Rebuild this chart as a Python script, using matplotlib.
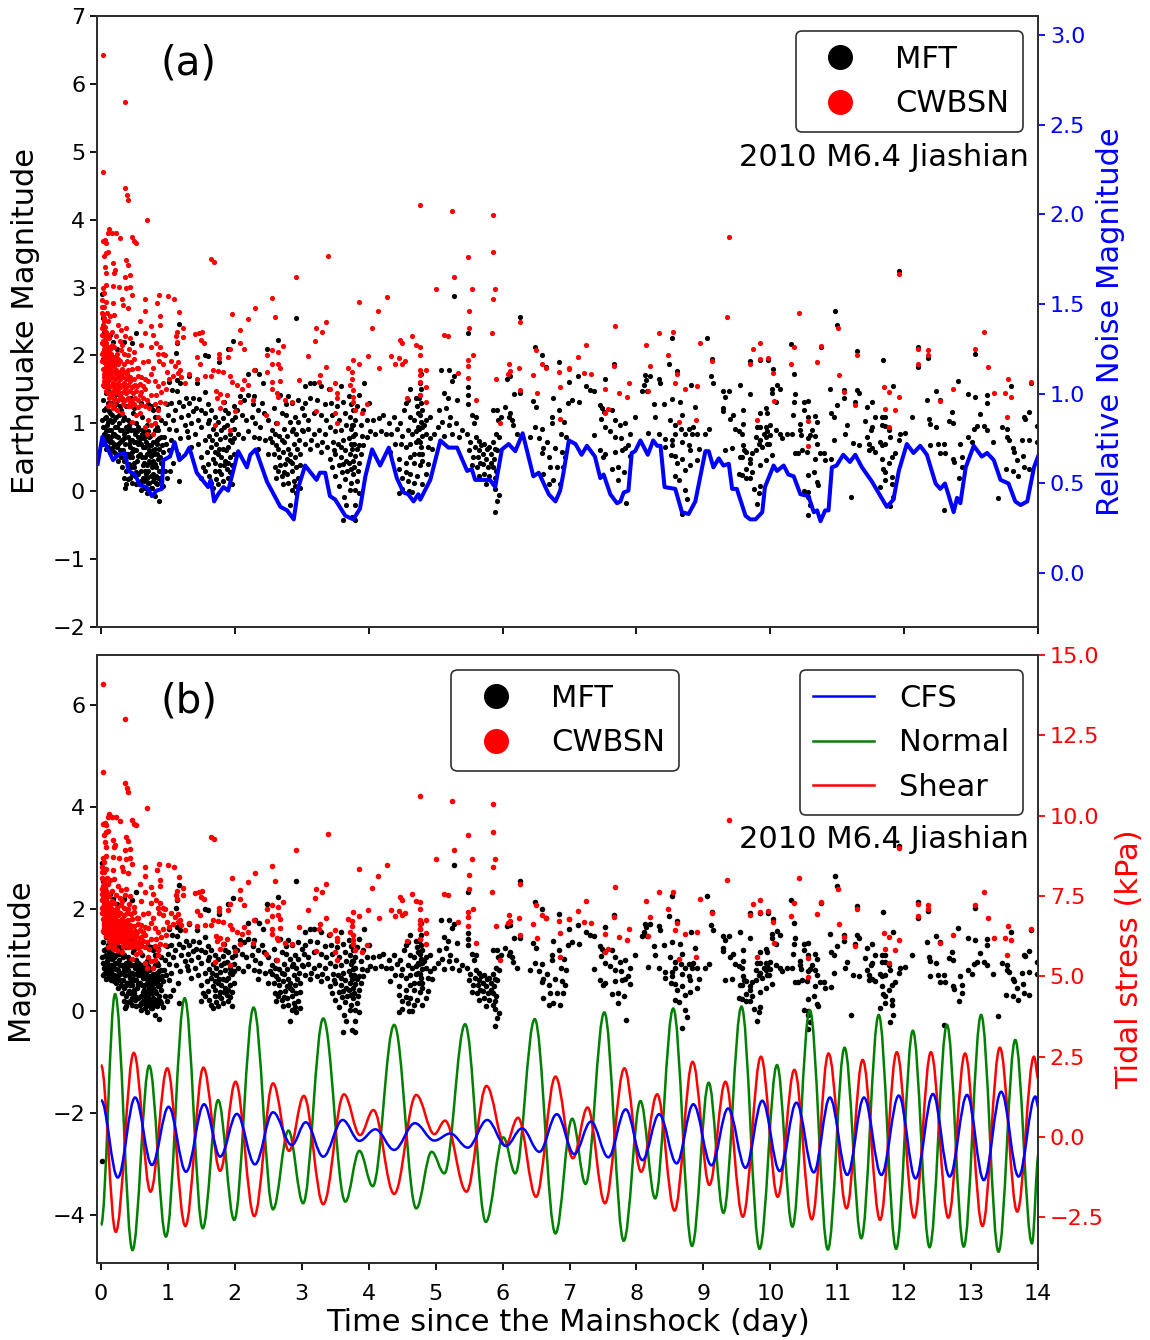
import numpy as np
import matplotlib
matplotlib.use("Agg")
import matplotlib.pyplot as plt
from matplotlib.lines import Line2D
from matplotlib.path import Path
from matplotlib.patches import PathPatch

# ---- Catalogue events: flat lists of time (day), magnitude ----
mft_day0_a = [0.03,1.35, 0.05,1.2, 0.02,1.05, 0.06,0.95, 0.04,0.85, 0.07,1.1, 0.09,0.75, 0.03,0.7, 0.1,1.3, 0.12,0.9,
 0.11,0.65, 0.14,1.15, 0.13,0.78, 0.16,1.02, 0.15,0.6, 0.18,0.85, 0.19,1.25, 0.2,0.7, 0.21,0.95, 0.23,1.1, 0.22,0.55,
 0.25,0.8, 0.24,0.65, 0.27,1.0, 0.26,0.45, 0.29,0.9, 0.28,0.6, 0.31,0.75, 0.3,1.2, 0.32,0.35, 0.07,0.62, 0.08,0.88,
 0.1,1.02, 0.05,0.72, 0.12,1.18, 0.17,0.72, 0.19,0.58, 0.16,0.82, 0.04,1.55, 0.06,1.75, 0.03,1.95, 0.05,2.35, 0.02,2.9,
 0.03,2.55, 0.08,1.45, 0.11,1.5, 0.15,1.3, 0.21,1.42, 0.13,2.3, 0.18,2.2, 0.24,2.1, 0.34,2.2, 0.52,2.33, 0.47,2.18,
 0.02,-2.95, 0.23,1.28, 0.28,1.25, 0.33,1.35, 0.35,1.1, 0.38,1.25, 0.03,0.95, 0.06,0.82, 0.09,0.98, 0.14,0.72, 0.2,0.85]
mft_day0_b = [0.33,0.6, 0.34,0.85, 0.35,0.45, 0.36,0.7, 0.37,0.95, 0.38,0.3, 0.39,0.55, 0.4,0.8, 0.41,1.05, 0.42,0.4,
 0.43,0.65, 0.44,0.2, 0.45,0.9, 0.46,0.5, 0.47,0.75, 0.48,1.15, 0.49,0.35, 0.5,0.6, 0.51,0.85, 0.52,0.1, 0.53,1.0,
 0.54,0.45, 0.55,0.7, 0.56,0.25, 0.57,0.92, 0.58,0.55, 0.59,0.78, 0.6,0.02, 0.61,1.1, 0.62,0.38, 0.63,0.65, 0.64,0.15,
 0.65,0.85, 0.66,0.5, 0.67,0.72, 0.68,-0.02, 0.69,0.98, 0.7,0.3, 0.71,0.6, 0.72,0.12, 0.73,0.82, 0.74,0.42, 0.75,0.68,
 0.76,0.05, 0.77,1.2, 0.78,0.25, 0.79,0.55, 0.8,-0.07, 0.81,0.9, 0.82,0.35, 0.83,0.75, 0.84,0.1, 0.85,0.48, 0.86,0.62,
 0.87,-0.15, 0.88,0.2, 0.89,0.8, 0.9,0.42, 0.92,0.58, 0.93,0.08, 0.95,0.3, 0.97,0.7, 0.99,0.2, 0.35,0.2, 0.38,0.1,
 0.41,0.55, 0.44,0.75, 0.47,0.25, 0.5,0.42, 0.53,0.6, 0.56,0.8, 0.59,0.3, 0.62,0.9, 0.65,0.3, 0.68,0.55, 0.71,0.8,
 0.74,0.22, 0.77,0.6, 0.8,0.4, 0.83,0.55, 0.86,0.3, 0.36,0.05, 0.42,0.98, 0.48,0.62, 0.54,0.88, 0.6,0.7, 0.66,0.05,
 0.72,0.45, 0.78,0.72, 0.84,0.7, 0.9,0.15, 0.46,0.12, 0.52,0.28, 0.58,0.12, 0.64,0.42, 0.7,0.12, 0.76,0.35, 0.82,0.12,
 0.88,0.5, 0.94,0.8, 0.96,1.0, 0.98,1.28, 0.9,1.05, 0.85,1.22, 0.8,1.1, 0.75,1.25, 0.7,1.28, 0.6,1.3, 0.5,1.22, 0.45,1.38,
 0.4,0.18, 0.43,0.5, 0.49,0.9, 0.55,0.95, 0.61,0.5, 0.67,0.25, 0.73,0.58, 0.79,0.2, 0.85,0.9, 0.91,0.68]
mft_day0_c = [0.06,1.08, 0.08,1.22, 0.11,0.82, 0.13,1.05, 0.15,0.9, 0.17,1.12, 0.18,0.65, 0.2,1.05, 0.22,0.82, 0.24,0.95, 0.26,0.7,
 0.27,1.12, 0.29,0.72, 0.3,0.5, 0.32,0.9, 0.33,1.05, 0.35,0.78, 0.37,0.5, 0.39,0.88, 0.4,0.35, 0.42,0.7, 0.44,0.92, 0.45,0.35, 0.47,0.58,
 0.49,0.72, 0.51,0.22, 0.52,0.72, 0.54,0.25, 0.56,0.52, 0.57,0.72, 0.59,0.15, 0.61,0.85, 0.63,0.2, 0.64,0.78, 0.66,0.65, 0.68,0.38, 0.69,0.2,
 0.7,0.88, 0.72,0.68, 0.74,0.05, 0.75,0.52, 0.77,0.15, 0.78,0.45, 0.8,0.62, 0.82,0.22, 0.83,0.95, 0.85,0.2, 0.86,0.78]
mft_day1 = [1.02,1.61, 1.13,1.64, 1.18,1.59, 1.06,1.49, 1.13,1.47, 1.16,2.47, 1.14,2.18, 1.12,2.03, 1.55,2.0, 1.6,1.99,
 1.76,1.91, 1.56,1.46, 1.43,1.59, 1.31,1.7, 1.97,2.21, 1.9,2.1, 1.05,1.3, 1.1,1.2, 1.0,1.12, 1.08,1.05, 1.17,1.32, 1.22,1.25,
 1.27,1.38, 1.32,1.3, 1.38,1.38, 1.2,1.1, 1.3,1.12, 1.42,1.22, 1.02,0.92, 1.12,0.9, 1.25,0.98, 1.35,1.0, 1.45,1.05, 1.5,1.2,
 1.55,1.15, 1.6,1.28, 1.65,1.2, 1.7,1.1, 1.05,0.75, 1.18,0.78, 1.3,0.8, 1.4,0.85, 1.5,0.95, 1.6,1.0, 1.02,0.6, 1.15,0.55,
 1.35,0.65, 1.45,0.7, 1.55,0.75, 1.62,0.82, 1.68,0.92, 1.75,1.02, 1.82,1.08, 1.9,1.15, 1.98,1.25, 1.85,1.2, 1.72,0.85, 1.8,0.9,
 1.88,0.97, 1.95,1.05, 2.0,1.1, 1.5,0.5, 1.58,0.58, 1.65,0.65, 1.72,0.7, 1.78,0.77, 1.85,0.8, 1.92,0.85, 1.98,0.92, 1.52,0.35,
 1.6,0.4, 1.68,0.48, 1.75,0.55, 1.82,0.62, 1.9,0.65, 1.96,0.72, 1.62,0.22, 1.7,0.3, 1.78,0.38, 1.85,0.45, 1.92,0.5, 1.98,0.55,
 1.65,0.12, 1.72,0.18, 1.8,0.25, 1.88,0.32, 1.95,0.38, 1.5,0.2, 1.55,0.3, 1.68,0.05, 1.75,0.1, 1.82,0.15, 1.9,0.2, 1.95,0.1,
 1.17,0.15, 1.03,0.3, 1.08,0.42, 1.28,0.88, 1.37,1.18, 1.47,1.36, 1.62,1.05, 1.76,0.62, 1.84,1.32, 1.93,0.75, 1.9,0.42,
 1.71,0.42, 1.79,0.5, 1.86,0.6, 1.76,0.3, 1.84,0.38, 1.93,0.28, 1.98,0.78, 1.66,0.75, 1.84,0.95, 1.7,0.58]
mft_day2 = [2.48,2.1, 2.64,2.23, 2.91,2.55, 2.2,1.72, 2.3,1.78, 2.36,1.72, 2.42,1.6, 2.07,1.4, 2.13,1.35, 2.2,1.42, 2.27,1.28,
 2.35,1.2, 2.43,1.15, 2.5,1.05, 2.03,1.2, 2.1,1.12, 2.17,1.05, 2.25,1.1, 2.3,1.0, 2.38,0.95, 2.55,0.9, 2.62,1.0, 2.7,1.15, 2.76,1.28,
 2.85,1.3, 2.95,1.35, 3.0,1.22, 2.9,1.1, 2.82,1.02, 2.74,0.92, 2.66,0.82, 2.05,0.85, 2.12,0.78, 2.2,0.88, 2.28,0.8, 2.36,0.78,
 2.45,0.75, 2.55,0.72, 2.62,0.68, 2.7,0.75, 2.78,0.82, 2.86,0.88, 2.94,1.02, 3.0,0.9, 2.5,0.55, 2.58,0.55, 2.66,0.5, 2.72,0.58,
 2.8,0.62, 2.88,0.7, 2.96,0.75, 2.6,0.35, 2.68,0.38, 2.75,0.4, 2.82,0.45, 2.9,0.5, 2.97,0.55, 2.62,0.2, 2.7,0.22, 2.78,0.25,
 2.85,0.3, 2.92,0.35, 2.72,0.1, 2.8,0.12, 2.88,0.15, 2.95,0.2, 2.85,0.02, 2.92,-0.03, 2.9,0.08, 2.97,0.05, 2.82,-0.2,
 2.53,0.78, 2.6,0.85, 2.35,0.62, 2.28,1.4, 2.4,1.3, 2.58,1.22, 2.68,1.42, 2.8,1.4, 2.76,1.12, 2.87,0.92,
 2.65,0.62, 2.74,0.28, 2.83,0.55, 2.78,0.48, 2.93,0.62, 2.86,0.42, 2.73,0.72, 2.98,0.38, 2.64,0.3, 2.92,0.85]
mft_day3 = [3.05,1.55, 3.12,1.6, 3.18,1.6, 3.28,1.55, 3.4,1.5, 3.58,1.55, 3.7,1.4, 3.93,1.6, 3.85,1.42, 4.0,1.3, 3.05,1.3, 3.12,1.38,
 3.22,1.35, 3.34,1.28, 3.44,1.3, 3.52,1.25, 3.62,1.32, 3.74,1.28, 3.82,1.25, 3.92,1.2, 3.03,1.12, 3.1,1.05, 3.18,1.15, 3.28,1.12,
 3.36,1.05, 3.45,1.12, 3.55,1.05, 3.65,1.15, 3.72,1.1, 3.8,1.05, 3.88,0.98, 3.97,1.05, 3.02,0.88, 3.1,0.92, 3.18,0.85, 3.26,0.9,
 3.34,0.85, 3.42,0.95, 3.5,0.88, 3.58,0.9, 3.66,0.98, 3.74,0.92, 3.8,0.85, 3.9,0.82, 3.98,0.8, 3.05,0.7, 3.14,0.75, 3.22,0.68,
 3.3,0.72, 3.38,0.65, 3.46,0.72, 3.54,0.7, 3.62,0.75, 3.7,0.78, 3.78,0.7, 3.85,0.68, 3.12,0.62, 3.28,0.58, 3.42,0.48, 3.5,0.55,
 3.58,0.5, 3.65,0.6, 3.72,0.55, 3.8,0.52, 3.88,0.55, 3.45,0.35, 3.55,0.38, 3.62,0.4, 3.7,0.42, 3.78,0.35, 3.86,0.42, 3.5,0.22,
 3.6,0.28, 3.68,0.3, 3.76,0.25, 3.84,0.3, 3.55,0.08, 3.65,0.18, 3.74,0.12, 3.82,0.15, 3.63,-0.08, 3.72,0.02, 3.8,0.02, 3.86,-0.03,
 3.66,-0.2, 3.62,-0.42, 3.75,-0.38, 3.8,-0.2, 3.8,-0.42, 3.76,1.2, 3.75,0.98, 3.76,0.82,
 3.75,0.62, 3.77,0.45, 3.74,0.7, 3.77,0.98, 3.73,0.32, 3.66,0.45, 3.83,0.62, 3.58,0.65, 3.48,0.6, 3.92,0.68]
mft_day4 = [4.07,1.05, 4.15,1.08, 4.22,1.12, 4.3,1.0, 4.38,1.1, 4.47,1.0, 4.53,1.2, 4.58,1.35, 4.62,1.1, 4.68,1.05, 4.72,1.25, 4.8,1.2,
 4.86,1.05, 4.92,1.1, 4.78,1.72, 4.76,1.6, 4.78,1.5, 4.75,1.38, 4.78,1.3, 4.74,1.15, 4.78,1.02, 4.75,0.92, 4.8,0.82, 4.74,0.75,
 4.78,0.65, 4.75,0.55, 4.8,0.45, 4.76,0.38, 4.8,0.11, 4.7,1.38, 4.62,1.5, 4.55,1.3, 4.02,0.88, 4.1,0.85, 4.18,0.88, 4.26,0.85,
 4.34,0.85, 4.42,0.92, 4.5,0.82, 4.58,0.9, 4.65,0.85, 4.7,0.72, 4.85,0.85, 4.92,0.78, 4.98,0.85, 4.4,0.7, 4.48,0.7, 4.55,0.65,
 4.62,0.7, 4.68,0.55, 4.88,0.65, 4.95,0.62, 4.32,0.58, 4.45,0.48, 4.55,0.42, 4.62,0.5, 4.68,0.42, 4.88,0.4, 4.45,0.32, 4.55,0.28,
 4.62,0.25, 4.72,0.22, 4.85,0.25, 4.5,0.2, 4.58,0.15, 4.68,0.12, 4.45,-0.02, 4.65,-0.01, 4.5,0.03, 4.6,0.0,
 4.77,1.12, 4.79,0.95, 4.76,0.72, 4.79,0.55, 4.77,1.42, 4.73,0.95, 4.82,0.98, 4.7,0.88]
mft_day5 = [5.08,1.79, 5.2,1.79, 5.25,1.63, 5.28,1.7, 5.12,1.45, 5.18,1.37, 5.32,1.34, 5.15,1.23, 5.22,1.1, 5.05,1.2, 5.27,2.87, 5.49,2.33,
 5.49,1.54, 5.49,1.42, 5.49,1.29, 5.6,1.1, 5.55,1.12, 5.58,1.0, 5.47,0.85, 5.6,0.8, 5.65,0.74, 5.52,0.72, 5.59,0.65, 5.4,0.9,
 5.35,0.8, 5.3,1.0, 5.65,0.6, 5.72,0.7, 5.8,0.65, 5.85,0.72, 5.9,0.85, 5.93,1.05, 5.85,1.2, 5.92,1.2, 5.98,1.1, 5.95,0.8,
 5.5,0.6, 5.56,0.5, 5.63,0.5, 5.7,0.55, 5.75,0.48, 5.82,0.55, 5.87,0.48, 5.92,0.6, 5.55,0.38, 5.62,0.35, 5.7,0.4, 5.78,0.35,
 5.85,0.35, 5.9,0.3, 5.65,0.22, 5.72,0.25, 5.8,0.22, 5.88,0.2, 5.75,0.1, 5.85,0.12, 5.88,0.03, 5.95,-0.05, 5.92,-0.14, 5.88,-0.3,
 5.1,1.02, 5.2,0.98, 5.25,0.85, 5.12,0.82, 5.03,0.95, 5.67,0.42, 5.76,0.62, 5.82,0.42, 5.88,0.62, 5.68,0.68]
mft_day6 = [6.26,2.56, 6.49,2.13, 6.59,2.0, 6.65,1.83, 6.84,1.91, 6.11,1.69, 6.06,1.66, 6.17,1.43, 6.26,1.44, 6.45,1.33, 6.5,1.24,
 6.75,1.38, 6.99,1.61, 6.04,1.24, 6.11,1.15, 6.14,1.05, 6.09,1.1, 6.16,0.97, 6.21,0.85, 6.41,0.8, 6.49,0.95, 6.59,0.92, 6.74,1.1,
 6.84,1.19, 6.74,1.0, 6.61,0.63, 6.59,0.56, 6.79,0.63, 6.89,0.58, 6.69,0.51, 6.71,0.36, 6.61,0.26, 6.76,0.16, 6.69,0.11, 6.86,0.11,
 6.88,0.85, 6.95,0.8, 6.92,1.02, 6.66,0.72, 6.55,0.78, 6.9,0.35, 6.94,0.5, 6.82,0.35]
mft_day7 = [7.13,1.69, 7.25,1.55, 7.31,1.49, 7.36,1.47, 6.98,1.3, 7.04,1.35, 7.14,1.32, 7.46,1.27, 7.48,1.22, 7.51,1.17, 7.47,1.07, 7.63,1.2,
 7.53,1.65, 7.53,0.95, 7.61,0.88, 7.68,1.05, 7.75,0.97, 7.83,1.01, 7.37,0.83, 7.68,0.8, 7.77,0.78, 7.91,0.84, 7.45,0.61, 7.53,0.55,
 7.5,0.5, 7.68,0.58, 7.83,0.63, 7.88,0.68, 7.78,0.61, 7.91,0.52, 7.63,0.33, 7.73,0.36, 7.81,0.29, 7.73,0.16, 7.84,-0.17, 7.66,1.88]
mft_day8 = [8.13,1.71, 8.2,1.7, 8.15,1.64, 8.11,1.56, 8.08,1.48, 8.16,1.47, 8.34,1.66, 8.35,1.59, 8.26,1.28, 8.41,1.29, 8.53,1.36, 8.65,1.31,
 8.27,1.1, 8.18,0.86, 8.33,0.84, 7.98,1.09, 8.5,1.05, 8.58,0.97, 8.68,1.12, 8.66,0.92, 8.78,0.92, 8.73,0.85, 8.58,0.85, 8.43,0.77,
 8.53,0.76, 8.68,0.73, 8.83,0.85, 8.9,0.84, 9.03,0.85, 9.08,0.92, 8.85,0.95, 8.43,0.65, 8.53,0.68, 8.78,0.68, 8.8,0.6, 8.93,0.62,
 8.51,0.54, 8.58,0.52, 8.68,0.48, 8.61,0.41, 8.58,0.22, 8.63,0.17, 8.73,0.31, 8.8,0.38, 8.9,0.46, 8.73,0.02, 8.75,-0.11, 8.68,-0.33,
 8.48,1.87, 8.61,1.77, 8.53,2.25, 8.88,1.24, 8.81,1.56]
mft_day9 = [9.05,2.25, 9.13,1.95, 9.11,1.69, 9.15,1.59, 9.3,1.47, 9.38,1.47, 9.33,1.39, 9.69,1.43, 9.55,1.56, 9.3,1.23, 9.29,1.18, 9.44,1.12,
 9.4,1.06, 9.59,1.19, 9.59,0.99, 9.48,0.92, 9.53,0.88, 9.58,0.84, 9.43,0.63, 9.33,0.6, 9.59,0.68, 9.6,0.6, 9.63,0.58, 9.58,0.5, 9.55,0.5,
 9.78,0.6, 9.73,0.56, 9.7,0.48, 9.69,0.41, 9.63,0.33, 9.73,0.29, 9.53,0.25, 9.58,0.24, 9.64,0.19, 9.7,0.19, 9.75,0.04, 9.85,0.07,
 9.83,-0.03, 9.8,-0.19, 9.84,1.15, 9.93,1.22, 9.95,1.15, 9.8,0.94, 9.85,0.94, 9.93,0.95, 10.0,0.97, 9.78,0.8, 9.85,0.75, 9.9,0.85,
 9.95,0.88, 9.93,0.8, 10.0,0.83, 9.83,0.7, 9.95,0.7, 9.88,0.65, 9.98,0.7, 9.93,0.46, 9.85,0.38, 9.69,1.92, 9.85,1.93, 9.96,1.93]
mft_day10 = [10.08,0.9, 10.15,0.85, 10.17,0.79, 10.25,0.84, 10.32,0.84, 10.02,0.53, 10.04,1.8, 10.03,1.51, 10.03,1.44, 10.1,1.57, 10.15,1.5,
 10.08,1.32, 10.34,1.12, 10.37,1.43, 10.35,1.32, 10.5,1.32, 10.57,1.33, 10.5,1.19, 10.35,1.73, 10.31,2.17, 10.76,2.12, 10.45,0.99,
 10.45,0.9, 10.46,0.83, 10.62,0.9, 10.6,0.83, 10.57,1.1, 10.67,1.11, 10.7,1.02, 10.67,0.81, 10.57,0.78, 10.7,0.7, 10.37,0.57, 10.42,0.56,
 10.47,0.6, 10.55,0.58, 10.67,0.48, 10.75,0.56, 10.8,0.56, 10.82,0.46, 10.9,0.47, 10.57,0.24, 10.65,0.29, 10.7,0.14, 10.72,0.09,
 10.5,0.01, 10.57,-0.01, 10.57,-0.08, 10.6,-0.21, 10.57,-0.35, 10.89,1.51, 11.0,1.27, 10.9,1.15, 10.95,1.1, 10.95,0.75, 10.96,2.65, 10.99,2.45]
mft_day11 = [11.14,0.97, 11.12,0.84, 11.24,0.71, 11.32,0.68, 11.1,1.49, 11.1,1.37, 11.3,2.06, 11.27,1.32, 11.3,1.49, 11.32,1.44, 11.44,1.24,
 11.52,1.31, 11.41,1.03, 11.52,0.95, 11.57,1.1, 11.67,1.1, 11.72,1.1, 11.5,0.9, 11.45,0.8, 11.67,0.97, 11.72,0.96, 11.77,0.9, 11.79,0.8,
 11.47,0.7, 11.52,0.63, 11.47,0.6, 11.57,0.58, 11.64,0.73, 11.72,0.7, 11.67,0.68, 11.67,0.48, 11.82,0.51, 11.87,0.56, 11.78,0.41, 11.69,0.33,
 11.72,0.29, 11.92,0.75, 11.94,0.85, 11.82,0.21, 11.72,0.16, 11.82,0.11, 11.64,0.06, 11.84,-0.08, 11.79,-0.22, 11.21,-0.08, 11.84,1.55,
 11.68,1.94, 11.92,3.24]
mft_day12 = [12.02,0.86, 12.12,1.09, 12.21,2.13, 12.21,1.83, 12.35,1.96, 12.34,1.35, 12.48,1.47, 12.54,1.35, 12.8,1.63, 12.95,1.43, 12.37,1.06,
 12.39,0.99, 12.47,0.94, 12.67,1.03, 12.73,1.01, 12.72,1.16, 12.38,0.68, 12.5,0.7, 12.6,0.7, 12.54,0.56, 12.61,0.56, 12.73,0.48, 12.74,0.43,
 12.84,0.69, 12.87,0.51, 12.95,0.8, 12.82,0.2, 12.87,0.36, 12.59,-0.28]
mft_day13 = [13.06,1.39, 13.24,1.42, 13.24,1.3, 13.14,1.14, 13.02,0.73, 13.04,0.92, 13.09,0.96, 13.19,0.96, 13.24,0.9, 13.06,2.02, 13.33,0.73,
 13.46,0.95, 13.54,0.91, 13.54,0.8, 13.56,0.76, 13.63,0.63, 13.64,0.58, 13.76,0.75, 13.86,0.76, 13.78,0.52, 13.69,0.46, 13.52,0.32, 13.62,0.3,
 13.7,0.22, 13.79,0.36, 13.86,0.32, 13.4,-0.1, 13.59,1.55, 13.89,1.59, 13.79,1.1, 13.86,1.17, 13.81,1.07, 13.99,0.96, 13.99,0.73]

cwbsn_early_top = [0.03,6.43, 0.03,4.7, 0.36,5.74, 0.36,4.47, 0.39,4.37, 0.69,3.99, 0.41,4.29, 0.03,3.68, 0.08,3.65, 0.06,3.7, 0.11,3.8, 0.12,3.86,
 0.16,3.8, 0.23,3.8, 0.29,3.73, 0.46,3.75, 0.5,3.68, 0.53,3.65, 0.08,3.51, 0.04,3.46, 0.11,3.53, 0.18,3.36, 0.21,3.26, 0.19,3.21, 0.38,3.41,
 0.41,3.33, 0.36,3.16, 0.43,3.19, 0.06,3.31, 0.07,3.21, 0.43,3.01, 0.38,2.99, 0.18,3.02, 0.27,3.01, 0.08,3.04, 0.46,2.89, 0.31,2.83,
 0.18,2.77, 0.33,2.74, 0.41,2.7, 0.03,3.0, 0.05,2.92, 0.02,2.82, 0.04,2.72, 0.07,2.78, 0.02,2.62, 0.05,2.55, 0.09,2.62, 0.03,2.45,
 0.06,2.42, 0.11,2.5, 0.14,2.58, 0.2,2.6, 0.25,2.45, 0.3,2.38, 0.37,2.4, 0.02,2.3, 0.05,2.28, 0.08,2.35, 0.12,2.25, 0.17,2.35, 0.22,2.28,
 0.28,2.22, 0.36,2.28, 0.44,2.25]
cwbsn_early_dense = [0.02,2.18, 0.04,2.15, 0.07,2.18, 0.1,2.12, 0.13,2.1, 0.16,2.15, 0.2,2.12, 0.03,2.05, 0.06,2.02, 0.09,2.04, 0.12,1.98,
 0.15,2.02, 0.18,1.98, 0.24,2.02, 0.3,2.08, 0.35,2.02, 0.42,2.1, 0.5,2.05, 0.02,1.92, 0.05,1.9, 0.08,1.94, 0.11,1.88, 0.14,1.9, 0.17,1.86,
 0.21,1.9, 0.25,1.88, 0.29,1.92, 0.34,1.88, 0.39,1.92, 0.45,1.9, 0.03,1.8, 0.06,1.78, 0.09,1.82, 0.12,1.76, 0.15,1.79, 0.19,1.76, 0.23,1.79,
 0.27,1.76, 0.31,1.8, 0.36,1.76, 0.41,1.78, 0.47,1.8, 0.54,1.82, 0.04,1.68, 0.07,1.66, 0.1,1.7, 0.13,1.65, 0.17,1.68, 0.21,1.65, 0.25,1.68,
 0.29,1.65, 0.33,1.68, 0.38,1.65, 0.43,1.68, 0.49,1.66, 0.56,1.7, 0.03,1.57, 0.06,1.55, 0.09,1.58, 0.12,1.54, 0.16,1.57, 0.2,1.54, 0.24,1.57,
 0.28,1.54, 0.32,1.57, 0.36,1.54, 0.41,1.57, 0.46,1.54, 0.51,1.57, 0.58,1.58, 0.14,1.45, 0.18,1.47, 0.22,1.44, 0.26,1.47, 0.3,1.44,
 0.34,1.47, 0.38,1.44, 0.43,1.47, 0.48,1.44, 0.53,1.47, 0.6,1.46, 0.2,1.36, 0.25,1.35, 0.31,1.37, 0.36,1.34, 0.41,1.37, 0.46,1.34, 0.51,1.37,
 0.56,1.34, 0.62,1.38, 0.4,1.26, 0.45,1.25, 0.5,1.28, 0.55,1.24, 0.6,1.27, 0.65,1.25, 0.1,1.25, 0.14,1.28, 0.18,1.22, 0.24,1.2, 0.32,1.15,
 0.46,1.02, 0.52,1.12, 0.58,1.15, 0.66,0.95, 0.7,1.05, 0.75,0.98, 0.8,1.0, 0.85,1.1, 0.68,0.85, 0.78,0.85]
cwbsn_early_fill = [0.02,2.72, 0.03,2.6, 0.04,2.5, 0.02,2.4, 0.04,2.37, 0.03,2.22, 0.05,2.1, 0.08,2.26, 0.1,2.3, 0.06,2.2, 0.02,2.02, 0.05,1.98, 0.08,2.0,
 0.11,2.06, 0.14,1.96, 0.07,1.85, 0.1,1.94, 0.13,1.83, 0.16,1.93, 0.19,1.85, 0.22,1.97, 0.26,1.95, 0.05,1.72, 0.08,1.74, 0.11,1.62, 0.14,1.72, 0.18,1.6,
 0.22,1.72, 0.26,1.6, 0.3,1.72, 0.34,1.6, 0.39,1.72, 0.44,1.62, 0.05,1.62, 0.07,1.48, 0.1,1.45, 0.12,1.38, 0.16,1.4, 0.2,1.28, 0.23,1.52, 0.28,1.4,
 0.33,1.28, 0.38,1.52, 0.43,1.32, 0.48,1.55, 0.54,1.55, 0.58,1.42, 0.62,1.55, 0.66,1.65, 0.6,1.68, 0.56,1.82, 0.5,1.95, 0.4,2.0, 0.32,2.15]
cwbsn_early_side = [0.66,1.5, 0.7,1.62, 0.75,1.72, 0.8,1.62, 0.85,1.55, 0.92,1.6, 0.68,1.35, 0.75,1.42, 0.82,1.42, 0.9,1.46, 0.97,1.5, 0.72,1.22,
 0.8,1.28, 0.88,1.32, 0.95,1.3, 0.85,1.2, 0.62,1.9, 0.7,1.92, 0.78,1.82, 0.86,1.92, 0.92,1.88, 0.98,1.75, 1.02,1.65, 0.6,2.15, 0.75,2.12, 0.82,2.18,
 0.88,2.12, 0.92,2.02, 0.96,2.0, 0.85,2.02, 0.65,2.33, 0.78,2.3]
cwbsn_day1 = [1.65,3.42, 1.69,3.38, 0.66,2.83, 0.87,2.89, 1.0,2.87, 1.09,2.83, 0.83,2.77, 0.65,2.65, 1.17,2.64, 1.96,2.61, 0.88,2.58, 0.58,2.5, 0.75,2.43,
 0.88,2.45, 1.23,2.41, 1.47,2.33, 1.41,2.32, 1.51,2.35, 1.23,2.27, 1.13,2.35, 1.12,2.28, 1.14,2.2, 1.49,2.23, 1.54,2.19, 1.93,2.1, 1.43,1.97,
 1.48,1.88, 1.76,2.02, 1.76,1.96, 1.89,1.98, 1.68,1.78, 1.75,1.77, 1.82,1.75, 1.55,1.69, 1.64,1.69, 1.43,1.66, 1.31,1.73, 1.26,1.59, 1.92,1.69,
 1.95,1.61, 1.72,1.47, 1.78,1.43, 1.88,1.41, 1.74,1.37, 1.83,1.32, 1.78,1.22, 1.7,0.97, 1.92,0.9, 1.05,1.92, 1.1,1.85, 1.15,1.9, 1.18,1.78, 1.2,1.68,
 1.15,1.74, 1.08,1.7]
cwbsn_day2 = [2.55,2.85, 2.3,2.7, 2.6,2.56, 2.19,2.53, 2.07,2.37, 2.08,2.19, 2.72,2.14, 2.13,2.09, 2.56,2.08, 2.64,2.05, 2.48,2.01, 2.65,1.88, 2.68,1.81,
 2.55,1.87, 2.48,1.76, 2.28,1.79, 2.96,1.64, 2.03,1.56, 2.13,1.64, 2.1,1.51, 2.19,1.56, 2.55,1.61, 2.55,1.51, 2.68,1.63, 2.63,1.44, 2.65,1.39,
 2.75,1.34, 2.85,1.31, 2.27,1.34, 2.08,1.32, 2.0,1.18, 2.46,1.12, 2.63,1.0, 2.91,3.16]
cwbsn_day3 = [3.39,3.47, 3.86,2.79, 3.36,2.49, 3.21,2.4, 3.3,2.34, 3.2,2.21, 3.09,1.99, 3.99,1.99, 3.85,1.87, 3.77,1.94, 3.69,1.81, 3.75,1.76, 3.75,1.66,
 3.72,1.56, 3.77,1.49, 3.76,1.39, 3.77,1.32, 3.5,1.59, 3.42,1.51, 3.52,1.44, 3.52,1.37, 3.36,1.83, 3.27,1.71, 3.25,1.61, 3.21,1.18, 3.5,1.15, 3.52,1.01,
 3.9,1.15, 3.8,1.2, 3.97,1.29]
cwbsn_day4 = [4.76,4.22, 4.27,2.86, 4.14,2.65, 4.05,2.41, 4.47,2.23, 4.5,2.18, 4.64,2.29, 4.71,2.16, 4.77,2.13, 4.34,1.99, 4.45,1.96, 4.39,1.87, 4.54,1.92,
 4.5,1.88, 4.77,2.01, 4.15,1.82, 4.77,1.78, 4.77,1.71, 4.77,1.61, 4.76,1.42, 4.86,1.79, 4.85,1.54, 4.85,1.31, 4.57,1.37]
cwbsn_day5 = [5.24,4.13, 5.86,4.07, 5.86,3.52, 5.49,3.45, 5.28,3.16, 5.0,2.98, 5.54,2.98, 5.88,2.98, 5.86,2.83, 5.5,2.66, 5.5,2.4, 5.12,2.3, 5.18,2.28, 5.84,2.33,
 5.56,2.01, 5.48,1.94, 5.48,1.84, 5.9,1.66, 5.33,1.74, 5.49,1.67, 5.6,1.34, 5.96,1.0]
cwbsn_day6 = [6.26,2.49, 6.5,2.08, 6.1,1.88, 6.25,1.82, 6.59,1.88, 6.65,1.82, 6.84,1.76, 6.99,1.81, 6.11,1.77, 6.08,1.72, 6.45,1.71, 6.51,1.44, 6.26,1.49,
 6.86,1.53, 6.86,1.06]
cwbsn_day7_9 = [9.39,3.74, 7.68,2.43, 9.35,2.57, 7.25,2.16, 8.14,2.15, 8.33,2.33, 8.54,2.34, 8.95,2.19, 7.12,1.97, 6.99,1.8, 7.21,1.74, 7.32,1.72, 7.67,1.85,
 7.53,1.51, 7.89,1.6, 7.74,1.45, 7.86,1.39, 7.58,1.21, 7.53,1.15, 8.2,1.85, 8.47,2.0, 8.61,1.73, 8.57,1.59, 8.17,1.47, 8.72,1.51, 8.9,1.55, 8.63,1.02,
 8.89,1.05, 9.13,1.92, 9.69,1.88, 9.74,2.1, 9.84,2.18, 9.85,1.95, 9.96,1.96, 9.8,1.05]
cwbsn_day10_13 = [10.43,2.62, 10.04,1.74, 10.06,1.33, 10.31,1.87, 10.35,2.12, 10.7,1.91, 10.76,2.14, 11.02,1.71, 11.01,2.4, 11.3,2.0, 11.1,1.46, 11.27,1.27,
 10.57,1.04, 10.57,0.67, 11.7,1.54, 11.78,1.46, 11.93,1.39, 11.72,1.21, 11.86,1.19, 11.78,0.95, 11.93,3.2, 12.2,2.1, 12.2,1.87, 12.35,2.08, 12.35,2.01,
 12.54,1.33, 12.73,1.5, 13.06,2.09, 13.19,2.34, 13.25,1.83, 13.35,1.44, 13.51,1.44, 13.59,1.39, 13.55,1.66, 13.54,1.1, 13.89,1.61]

# ---- Relative noise magnitude (panel a, right axis) ----
noise_t = [-0.05,0.02,0.08,0.18,0.26,0.36,0.41,0.51,0.58,0.68,0.76,0.83,0.91,0.93,1.03,1.10,1.17,1.26,1.32,1.43,1.60,1.64,1.69,1.75,1.83,1.90,2.05,2.18,2.23,2.31,
 2.48,2.58,2.68,2.78,2.88,2.95,3.05,3.22,3.27,3.35,3.42,3.50,3.65,3.77,3.87,3.95,4.05,4.17,4.30,4.42,4.52,4.59,4.67,4.74,4.77,4.92,5.07,5.19,5.32,5.47,5.54,5.59,5.81,5.89,5.99,
 6.09,6.19,6.30,6.46,6.54,6.69,6.79,6.86,6.91,6.99,7.09,7.18,7.26,7.38,7.46,7.51,7.61,7.71,7.76,7.81,7.88,7.93,7.98,8.06,8.17,8.25,8.31,8.36,8.42,8.58,8.68,8.78,8.88,
 9.03,9.08,9.15,9.23,9.30,9.38,9.43,9.50,9.63,9.70,9.78,9.88,9.92,10.05,10.10,10.20,10.27,10.35,10.45,10.57,10.65,10.70,10.75,10.82,10.87,10.92,10.99,11.09,11.19,11.27,11.37,
 11.52,11.74,11.84,11.92,12.04,12.14,12.24,12.34,12.47,12.54,12.61,12.66,12.74,12.79,12.84,12.92,13.04,13.16,13.24,13.34,13.44,13.56,13.66,13.74,13.84,13.94,14.00]
noise_v = [0.61,0.76,0.71,0.63,0.66,0.67,0.57,0.55,0.49,0.48,0.43,0.46,0.47,0.63,0.65,0.73,0.63,0.66,0.70,0.56,0.48,0.52,0.40,0.44,0.48,0.46,0.68,0.59,0.66,0.69,
 0.51,0.44,0.37,0.35,0.30,0.48,0.60,0.52,0.56,0.56,0.43,0.41,0.32,0.30,0.36,0.54,0.69,0.60,0.70,0.53,0.45,0.44,0.40,0.44,0.41,0.52,0.74,0.70,0.70,0.57,0.58,0.52,0.52,0.48,0.69,
 0.72,0.68,0.78,0.54,0.56,0.44,0.40,0.46,0.56,0.74,0.72,0.66,0.71,0.65,0.53,0.55,0.44,0.39,0.40,0.45,0.46,0.67,0.68,0.74,0.66,0.74,0.71,0.71,0.48,0.47,0.34,0.33,0.40,
 0.68,0.68,0.59,0.64,0.60,0.61,0.47,0.47,0.32,0.30,0.30,0.34,0.48,0.60,0.57,0.60,0.55,0.54,0.44,0.43,0.34,0.35,0.29,0.35,0.35,0.59,0.60,0.66,0.62,0.66,0.59,
 0.51,0.37,0.41,0.57,0.72,0.67,0.71,0.66,0.50,0.47,0.50,0.44,0.34,0.42,0.39,0.59,0.71,0.65,0.67,0.63,0.52,0.50,0.40,0.38,0.40,0.59,0.65]

# ---- Tidal stress (panel b, right axis): successive crests and troughs ----
shear_t = [0.00,0.22,0.49,0.74,0.99,1.26,1.53,1.78,2.01,2.29,2.57,2.81,3.03,3.32,3.63,3.87,4.07,4.38,4.71,4.98,5.14,5.46,5.76,6.04,6.23,6.50,6.79,
 7.05,7.27,7.53,7.82,8.07,8.31,8.57,8.84,9.09,9.33,9.59,9.86,10.11,10.36,10.62,10.87,11.14,11.38,11.64,11.89,12.15,12.40,12.66,12.91,13.17,13.43,13.69,13.94,14.01]
shear_v = [2.24,-2.95,2.62,-1.70,2.14,-2.77,2.16,-1.05,1.72,-2.46,1.67,-0.43,1.28,-2.09,1.33,0.06,0.84,-1.77,1.31,0.09,0.51,-1.70,1.59,-0.27,0.60,-1.86,1.88,
 -0.66,0.92,-2.06,2.14,-1.08,1.33,-2.29,2.34,-1.49,1.72,-2.48,2.50,-1.86,2.09,-2.56,2.60,-2.22,2.40,-2.58,2.64,-2.51,2.64,-2.51,2.60,-2.77,2.78,-2.32,2.50,1.77]
cfs_t = [0.00,0.25,0.51,0.76,1.01,1.27,1.54,1.78,2.03,2.30,2.57,2.85,3.06,3.32,3.61,3.86,4.10,4.38,4.69,4.98,5.22,5.48,5.77,6.05,6.29,6.55,6.81,
 7.07,7.32,7.58,7.84,8.09,8.34,8.60,8.85,9.12,9.37,9.63,9.88,10.14,10.39,10.65,10.89,11.15,11.40,11.66,11.92,12.17,12.43,12.68,12.94,13.19,13.45,13.71,13.96,14.01]
cfs_v = [1.15,-1.26,1.23,-0.87,0.94,-1.08,1.02,-0.61,0.72,-0.85,0.77,-0.25,0.46,-0.61,0.53,-0.12,0.24,-0.40,0.43,-0.11,0.11,-0.33,0.53,-0.28,0.27,-0.46,0.71,
 -0.53,0.48,-0.63,0.86,-0.72,0.71,-0.82,1.02,-0.88,0.89,-0.96,1.13,-1.06,1.07,-1.10,1.23,-1.18,1.23,-1.18,1.29,-1.29,1.34,-1.23,1.31,-1.34,1.41,-1.23,1.26,0.89]
normal_t = [0.00,0.21,0.47,0.72,0.97,1.25,1.52,1.75,1.99,2.28,2.57,2.80,3.02,3.32,3.65,3.86,4.06,4.38,4.71,4.94,5.13,5.44,5.75,6.01,6.19,6.48,6.79,
 7.04,7.24,7.52,7.81,8.06,8.28,8.55,8.83,9.08,9.30,9.57,9.84,10.10,10.33,10.59,10.86,11.11,11.36,11.62,11.88,12.13,12.38,12.64,12.89,13.15,13.41,13.66,13.91,14.01]
normal_v = [-2.74,4.45,-3.52,2.22,-3.10,4.32,-2.84,1.15,-2.58,4.03,-2.25,0.20,-2.06,3.69,-2.01,-0.43,-1.53,3.49,-2.22,-0.46,-1.13,3.51,-2.64,-0.01,-1.13,3.67,-3.00,
 0.57,-1.46,3.88,-3.23,1.12,-1.91,4.00,-3.39,1.69,-2.36,4.06,-3.48,2.24,-2.79,3.95,-3.50,2.78,-3.15,3.80,-3.48,3.31,-3.43,3.49,-3.41,3.80,-3.57,3.02,-3.31,-0.51]

left_ticks_a = [-2,-1,0,1,2,3,4,5,6,7]
right_ticks_a = [0.0,0.5,1.0,1.5,2.0,2.5,3.0]
left_ticks_b = [-4,-2,0,2,4,6]
right_ticks_b = [-2.5,0.0,2.5,5.0,7.5,10.0,12.5,15.0]
day_ticks_a = [0,2,4,6,8,10,12,14]
day_ticks_b = list(range(15))

plt.rcParams['font.family'] = 'DejaVu Sans'
W, H = 1150, 1340
fig = plt.figure(figsize=(W/100, H/100), dpi=100)

def place(top, bottom):
    return [97/W, 1-bottom/H, (1038-97)/W, (bottom-top)/H]

mft_groups = [mft_day0_a, mft_day0_b, mft_day0_c, mft_day1, mft_day2, mft_day3, mft_day4, mft_day5, mft_day6,
              mft_day7, mft_day8, mft_day9, mft_day10, mft_day11, mft_day12, mft_day13]
cwbsn_groups = [cwbsn_early_top, cwbsn_early_dense, cwbsn_early_fill, cwbsn_early_side, cwbsn_day1, cwbsn_day2, cwbsn_day3,
                cwbsn_day4, cwbsn_day5, cwbsn_day6, cwbsn_day7_9, cwbsn_day10_13]
mft = np.concatenate([np.reshape(g, (-1, 2)) for g in mft_groups])
cwbsn = np.concatenate([np.reshape(g, (-1, 2)) for g in cwbsn_groups])

def events(ax, size):
    ax.scatter(mft[:, 0], mft[:, 1], s=size, c='black', linewidths=0, zorder=2)
    ax.scatter(cwbsn[:, 0], cwbsn[:, 1], s=size, c='red', linewidths=0, zorder=3)

def tide(ax, t, v, color):
    # smooth crest-to-trough arcs drawn by matplotlib's own Bezier path
    verts = [(t[0], v[0])]
    codes = [Path.MOVETO]
    for i in range(len(t)-1):
        d = 0.364*(t[i+1]-t[i])
        verts += [(t[i]+d, v[i]), (t[i+1]-d, v[i+1]), (t[i+1], v[i+1])]
        codes += [Path.CURVE4]*3
    ax.add_patch(PathPatch(Path(verts, codes), fill=False, edgecolor=color, linewidth=1.8))

def dress(ax):
    ax.tick_params(labelsize=16, width=1.3, length=5)
    for s in ax.spines.values():
        s.set_linewidth(1.4); s.set_color('#303030')

def dot_legend(ax, x):
    hs = [Line2D([], [], ls='none', marker='o', ms=17, color=c, label=l)
          for c, l in (('black', 'MFT'), ('red', 'CWBSN'))]
    lg = ax.legend(handles=hs, loc='upper right', bbox_to_anchor=(x, 0.975), fontsize=22, borderaxespad=0,
                   borderpad=0.45, framealpha=1, edgecolor='#303030')
    lg.get_frame().set_linewidth(1.2)
    return lg

# Panel (a)
a = fig.add_axes(place(16, 627))
events(a, 14)
a.set_xlim(-0.06, 14); a.set_ylim(-2, 7)
a.set_xticks(day_ticks_a); a.set_xticklabels([])
a.set_yticks(left_ticks_a)
a.set_ylabel('Earthquake Magnitude', fontsize=22, labelpad=9)
dress(a)
dot_legend(a, 0.984)
a.text(0.068, 0.904, '(a)', transform=a.transAxes, fontsize=29)
a.text(0.990, 0.755, '2010 M6.4 Jiashian', transform=a.transAxes, fontsize=22, ha='right')
ar = a.twinx()
ar.plot(noise_t, noise_v, color='blue', lw=2.9)
ar.set_ylim(-0.30, 3.106)
ar.set_yticks(right_ticks_a)
ar.set_ylabel('Relative Noise Magnitude', fontsize=22, color='blue', labelpad=8)
dress(ar)
ar.tick_params(axis='y', colors='blue')

# Panel (b)
b = fig.add_axes(place(655, 1263))
events(b, 16)
b.set_xlim(-0.06, 14); b.set_ylim(-4.95, 6.99)
b.set_xticks(day_ticks_b)
b.set_yticks(left_ticks_b)
b.set_ylabel('Magnitude', fontsize=22, labelpad=13)
b.set_xlabel('Time since the Mainshock (day)', fontsize=22, labelpad=3)
dress(b)
b.tick_params(axis='x', pad=10)
dot_legend(b, 0.618)
b.text(0.068, 0.906, '(b)', transform=b.transAxes, fontsize=29)
b.text(0.990, 0.683, '2010 M6.4 Jiashian', transform=b.transAxes, fontsize=22, ha='right', zorder=6)
br = b.twinx()
tide(br, normal_t, normal_v, 'green')
tide(br, shear_t, shear_v, 'red')
tide(br, cfs_t, cfs_v, 'blue')
br.set_ylim(-3.92, 15)
br.set_yticks(right_ticks_b)
br.set_ylabel('Tidal stress (kPa)', fontsize=22, color='red', labelpad=8)
dress(br)
br.tick_params(axis='y', colors='red')
line_handles = [Line2D([], [], color=c, lw=1.8, label=l) for c, l in (('blue', 'CFS'), ('green', 'Normal'), ('red', 'Shear'))]
lg = br.legend(handles=line_handles, loc='upper right', bbox_to_anchor=(0.984, 0.975), fontsize=22, borderaxespad=0,
               borderpad=0.45, framealpha=1, edgecolor='#303030')
lg.get_frame().set_linewidth(1.2)

fig.savefig('out.png', dpi=100)
